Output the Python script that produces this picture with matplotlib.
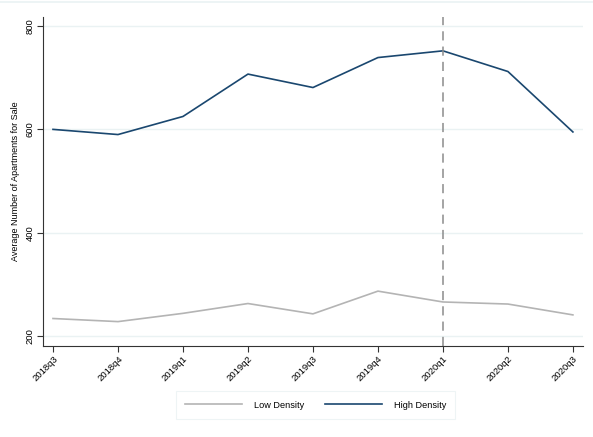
import numpy as np
import matplotlib
matplotlib.use("Agg")
import matplotlib.pyplot as plt
from matplotlib.lines import Line2D

quarters = ["2018q3", "2018q4", "2019q1", "2019q2", "2019q3",
            "2019q4", "2020q1", "2020q2", "2020q3"]
low_density = [234, 228, 244, 263, 243, 287, 266, 262, 241]
high_density = [600, 590, 625, 707, 681, 739, 752, 712, 595]
event_quarter = "2020q1"

plt.rcParams['font.family'] = ['Liberation Sans', 'DejaVu Sans']

fig = plt.figure(figsize=(5.93, 4.37), dpi=100)
ax = fig.add_axes([0.0725, 0.208, 0.9105, 0.753])

x = np.arange(len(quarters))
ax.plot(x, low_density, color='#b4b4b4', lw=1.2, label='Low Density')
ax.plot(x, high_density, color='#1a476f', lw=1.2, label='High Density')
ax.axvline(quarters.index(event_quarter), color='#8c8c8c', lw=1.1,
           linestyle=(0, (6, 4)))

ax.set_xlim(-0.154, 8.154)
ax.set_ylim(180.6, 817.4)
ax.set_yticks([200, 400, 600, 800])
ax.set_yticklabels(['200', '400', '600', '800'], rotation=90, va='center',
                   fontsize=6.8)
ax.set_xticks(x)
ax.set_xticklabels(quarters, rotation=45, ha='right', rotation_mode='anchor',
                   fontsize=6.8)
ax.tick_params(axis='both', length=4, width=0.8, color='#333333', pad=2)
ax.grid(axis='y', color='#eaf2f3', lw=1.0)
ax.set_axisbelow(True)
for s in ['top', 'right']:
    ax.spines[s].set_visible(False)
for s in ['left', 'bottom']:
    ax.spines[s].set_color('#333333')
    ax.spines[s].set_linewidth(0.8)
ax.set_ylabel('Average Number of Apartments for Sale', fontsize=6.5, labelpad=4)

handles = [Line2D([], [], color='#b4b4b4', lw=1.2),
           Line2D([], [], color='#1a476f', lw=1.2)]
leg = fig.legend(handles, ['Low Density', 'High Density'], loc='center',
                 bbox_to_anchor=(0.532, 0.073), ncol=2, fontsize=6.6,
                 frameon=True, fancybox=False, handlelength=6.2,
                 columnspacing=2.3, handletextpad=1.3, borderpad=1.0,
                 borderaxespad=0)
leg.get_frame().set_edgecolor('#eaf2f3')
leg.get_frame().set_linewidth(0.8)

fig.add_artist(Line2D([0, 1], [0.995, 0.995], color='#eaf2f3', lw=1.2,
                      transform=fig.transFigure))

fig.savefig('out.png', dpi=100)
